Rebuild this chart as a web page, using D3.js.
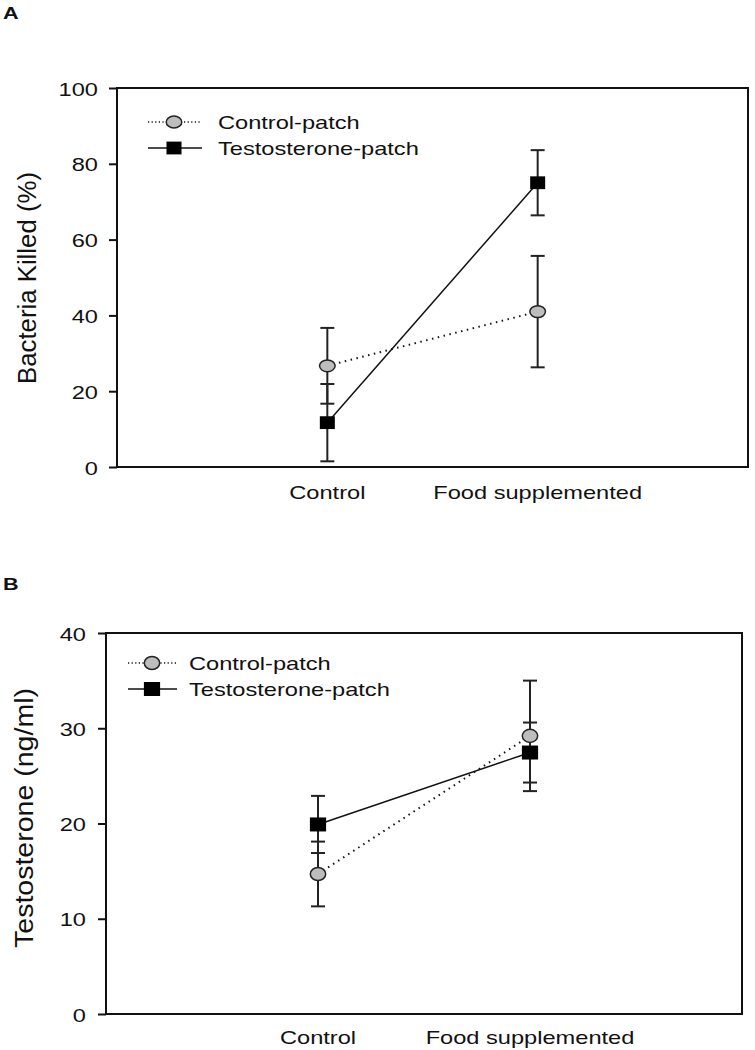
<!DOCTYPE html>
<html>
<head>
<meta charset="utf-8">
<script src="https://cdn.jsdelivr.net/npm/d3@7"></script>
<style>
  html, body { margin: 0; padding: 0; background: #fff; }
  svg { display: block; }
  text { font-family: "Liberation Sans", Arial, sans-serif; fill: #111; }
</style>
</head>
<body>
<svg id="chart" width="755" height="1050"></svg>
<script>
// ---------------- DATA ----------------
const categories = ["Control", "Food supplemented"];
const seriesNames = ["Control-patch", "Testosterone-patch"];

// Panel A: Bacteria Killed (%)
const bacteriaControlPatch = [26.7, 41.0];
const bacteriaControlPatchErr = [10.0, 14.7];
const bacteriaTestosteronePatch = [11.7, 75.0];
const bacteriaTestosteronePatchErr = [10.2, 8.6];
const bacteriaTicks = [0, 20, 40, 60, 80, 100];

// Panel B: Testosterone (ng/ml)
const testoControlPatch = [14.7, 29.2];
const testoControlPatchErr = [3.4, 5.8];
const testoTestosteronePatch = [19.9, 27.45];
const testoTestosteronePatchErr = [3.0, 3.15];
const testoTicks = [0, 10, 20, 30, 40];

// ---------------- DRAW ----------------
const svg = d3.select("#chart");
const SX = 1.27; // horizontal stretch of the original figure's text

function hText(g, x, y, str, anchor, size, weight) {
  const t = g.append("g").attr("transform", `translate(${x},${y})`)
    .append("text")
    .attr("transform", `scale(${SX},1)`)
    .attr("text-anchor", anchor)
    .style("font-size", size + "px")
    .text(str);
  if (weight) t.style("font-weight", weight);
  return t;
}

function panel(cfg) {
  const g = svg.append("g");
  const y = d3.scaleLinear().domain([0, cfg.ticks[cfg.ticks.length - 1]])
    .range([cfg.bottom, cfg.top]);
  const x = d3.scalePoint().domain(categories).range([cfg.left, cfg.right]).padding(1);

  // panel letter
  hText(g, 3, cfg.letterY, cfg.letter, "start", 17, "bold");

  // frame
  g.append("rect")
    .attr("x", cfg.left).attr("y", cfg.top)
    .attr("width", cfg.right - cfg.left).attr("height", cfg.bottom - cfg.top)
    .attr("fill", "none").attr("stroke", "#111").attr("stroke-width", 2);

  // y axis
  const yAxis = d3.axisLeft(y).tickValues(cfg.ticks).tickSize(8).tickPadding(0).tickFormat(d3.format("d"));
  const ax = g.append("g").attr("transform", `translate(${cfg.left},0)`).call(yAxis);
  ax.select(".domain").remove();
  ax.selectAll(".tick line").attr("stroke", "#111").attr("stroke-width", 2);
  ax.selectAll(".tick text").remove();
  ax.selectAll(".tick").each(function(d) {
    hText(d3.select(this), -cfg.labelGap, 7, d, "end", 18.6);
  });

  // x category labels
  categories.forEach(c => hText(g, x(c), cfg.xLabelY, c, "middle", 18.6));

  // y title
  g.append("text")
    .attr("transform", `translate(${cfg.titleX},${cfg.titleY}) rotate(-90)`)
    .attr("text-anchor", "middle")
    .attr("textLength", cfg.titleLen)
    .attr("lengthAdjust", "spacingAndGlyphs")
    .style("font-size", "25px")
    .text(cfg.title);

  const series = [
    { name: seriesNames[0], vals: cfg.cp, errs: cfg.cpErr, dashed: true },
    { name: seriesNames[1], vals: cfg.tp, errs: cfg.tpErr, dashed: false }
  ];
  const line = d3.line().x((d, i) => x(categories[i])).y(d => y(d));

  // error bars
  series.forEach(s => {
    s.vals.forEach((v, i) => {
      const cx = x(categories[i]);
      const lo = y(v - s.errs[i]), hi = y(v + s.errs[i]);
      g.append("line").attr("x1", cx).attr("x2", cx).attr("y1", lo).attr("y2", hi)
        .attr("stroke", "#222").attr("stroke-width", 2);
      [lo, hi].forEach(yy => g.append("line")
        .attr("x1", cx - 7).attr("x2", cx + 7).attr("y1", yy).attr("y2", yy)
        .attr("stroke", "#222").attr("stroke-width", 2));
    });
  });

  // lines
  series.forEach(s => {
    g.append("path").datum(s.vals).attr("d", line)
      .attr("fill", "none").attr("stroke", "#111")
      .attr("stroke-width", s.dashed ? 2 : 1.5)
      .attr("stroke-dasharray", s.dashed ? "1.5,4.5" : null);
  });

  // markers
  function circleMarker(cx, cy) {
    g.append("ellipse").attr("cx", cx).attr("cy", cy).attr("rx", cfg.mrx).attr("ry", cfg.mry)
      .attr("fill", "#bdbdbd").attr("stroke", "#222").attr("stroke-width", 1.5);
  }
  function squareMarker(cx, cy) {
    g.append("rect").attr("x", cx - cfg.srx).attr("y", cy - cfg.sry)
      .attr("width", 2 * cfg.srx).attr("height", 2 * cfg.sry).attr("fill", "#000");
  }
  series[0].vals.forEach((v, i) => circleMarker(x(categories[i]), y(v)));
  series[1].vals.forEach((v, i) => squareMarker(x(categories[i]), y(v)));

  // legend
  const L = cfg.legend;
  g.append("line").attr("x1", L.x1).attr("x2", L.x2).attr("y1", L.y0).attr("y2", L.y0)
    .attr("stroke", "#111").attr("stroke-width", 1.5).attr("stroke-dasharray", "1.2,2.4");
  circleMarker(L.mx, L.y0);
  hText(g, L.tx, L.y0 + 7, seriesNames[0], "start", 18.6);
  g.append("line").attr("x1", L.x1).attr("x2", L.x2).attr("y1", L.y1).attr("y2", L.y1)
    .attr("stroke", "#111").attr("stroke-width", 1.5);
  squareMarker(L.mx, L.y1);
  hText(g, L.tx, L.y1 + 7, seriesNames[1], "start", 18.6);
}

panel({
  letter: "A", letterY: 19,
  left: 117, right: 748, top: 88, bottom: 467,
  ticks: bacteriaTicks, labelGap: 19, xLabelY: 499,
  title: "Bacteria Killed (%)", titleX: 36, titleY: 278, titleLen: 212,
  cp: bacteriaControlPatch, cpErr: bacteriaControlPatchErr,
  tp: bacteriaTestosteronePatch, tpErr: bacteriaTestosteronePatchErr,
  mrx: 7.8, mry: 5.9, srx: 7.5, sry: 6.4,
  legend: { x1: 148, x2: 202, mx: 174, tx: 218, y0: 122, y1: 148 }
});

panel({
  letter: "B", letterY: 590,
  left: 106, right: 742, top: 633, bottom: 1014,
  ticks: testoTicks, labelGap: 20, xLabelY: 1044,
  title: "Testosterone (ng/ml)", titleX: 33, titleY: 818, titleLen: 260,
  cp: testoControlPatch, cpErr: testoControlPatchErr,
  tp: testoTestosteronePatch, tpErr: testoTestosteronePatchErr,
  mrx: 7.7, mry: 6.6, srx: 8.1, sry: 7,
  legend: { x1: 128, x2: 177, mx: 152, tx: 189, y0: 663, y1: 689 }
});
</script>
</body>
</html>
